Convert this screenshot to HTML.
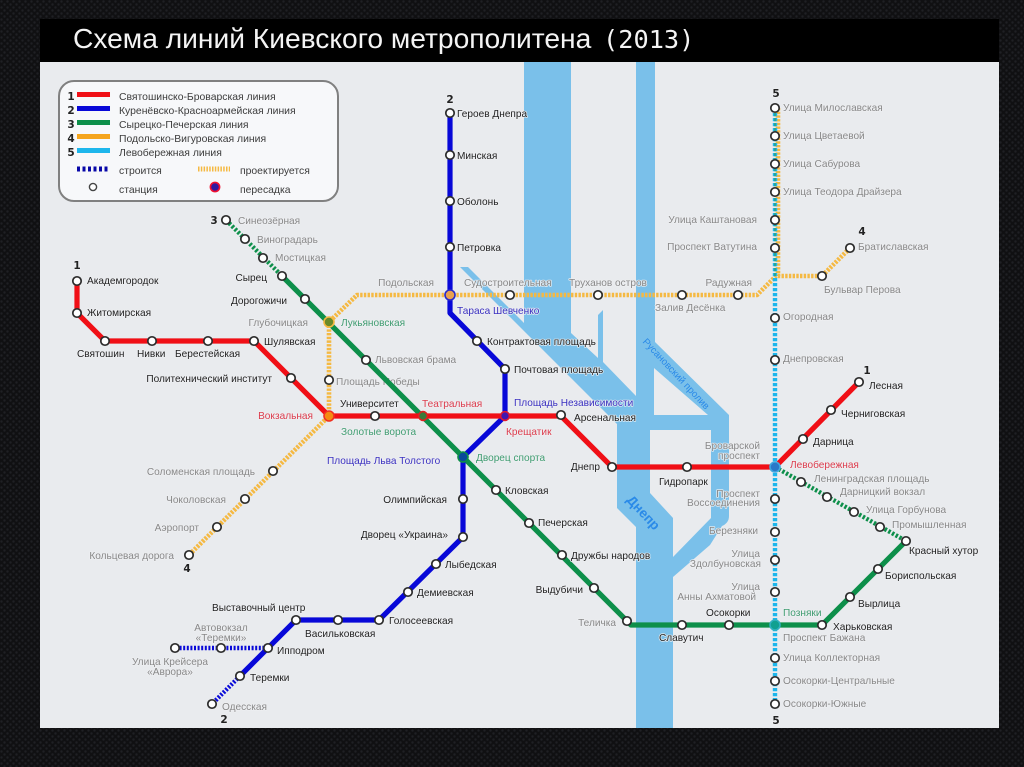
<!DOCTYPE html>
<html lang="ru"><head><meta charset="utf-8"><title>Схема линий Киевского метрополитена</title>
<style>
html,body{margin:0;padding:0;background:#111;width:1024px;height:767px;overflow:hidden}
svg{display:block;filter:blur(.35px)}
text{font-family:"Liberation Sans",sans-serif;font-size:10.1px;paint-order:stroke;stroke:#eef0f2;stroke-width:1.6px;stroke-linejoin:round;stroke-opacity:.85}
.k{fill:#222}.g{fill:#888}.r{fill:#dc3c4c}.b{fill:#3a30c0}.n{fill:#3f9c70}
.e{text-anchor:end}.m{text-anchor:middle}
.num{font-family:"DejaVu Sans",sans-serif;font-size:10.5px;font-weight:bold;fill:#222;text-anchor:middle}
.l{font-size:10.4px;stroke:none;fill:#3c3c3c}
.line{fill:none;stroke-linejoin:round;stroke-linecap:butt}
.s circle{fill:#fff;stroke:#2c2c2c;stroke-width:1.7;r:4.2px}
.t text{stroke:none;fill:#f4f4f4}
</style></head><body>
<svg width="1024" height="767" viewBox="0 0 1024 767" xmlns="http://www.w3.org/2000/svg">
<defs>
<pattern id="hex" width="6" height="6" patternUnits="userSpaceOnUse"><rect width="6" height="6" fill="#101012"/><circle cx="1.5" cy="1.5" r="1.2" fill="#1f2024"/><circle cx="4.5" cy="4.5" r="1.2" fill="#1f2024"/></pattern>
</defs>
<rect width="1024" height="767" fill="url(#hex)"/>
<rect x="40" y="19" width="959" height="43" fill="#000"/>
<rect x="40" y="62" width="959" height="666" fill="#e9ebee"/>
<g class="t">
<text x="73" y="48" style="font-size:28.2px">Схема линий Киевского метрополитена</text>
<text x="603" y="48" style="font-family:'DejaVu Sans Mono','Liberation Mono',monospace;font-size:25.3px">(2013)</text>
</g>

<!-- river -->
<g fill="#7ac0ea">
<path d="M524 62H571V333L598 358V315L603 310V362L636 396V62H655V342L729 415V516Q729 523 722 526L710 545L673 577V728H636V527L617 508V424L460 267H468L524 323Z"/>
</g>
<path d="M654 368L708 415H654Z" fill="#e9ebee"/>
<path d="M650 430H711V518L673 557V518L650 493Z" fill="#e9ebee"/>

<!-- labels that sit beneath lines -->
<text x="336" y="385" class="g">Площадь Победы</text>

<!-- orange -->
<g class="line" stroke="#f5b942" stroke-width="4.6" stroke-dasharray="2.4 1.3">
<path d="M778 108V276"/>
<path d="M850 248L822 276H776L757 295H357L329 322V416L189 555"/>
</g>
<!-- cyan -->
<path class="line" d="M775 108V704" stroke="#1db6ec" stroke-width="4.4" stroke-dasharray="3.2 1.8"/>
<path class="line" d="M775 108V276" stroke="#2f9f74" stroke-width="2" stroke-dasharray="3.2 1.8" opacity=".7"/>
<!-- green -->
<g class="line" stroke="#0d8f4a">
<path d="M226 220L282 276" stroke-width="4.4" stroke-dasharray="2.4 1.8"/>
<path d="M775 467L906 541" stroke-width="4.4" stroke-dasharray="2.4 1.8"/>
<path d="M282 276L631 625H822L906 541" stroke-width="5.2"/>
</g>
<!-- blue -->
<g class="line" stroke="#0808d8">
<path d="M450 113V313L505 369V416L463 457V537L379 620H296L240 676" stroke-width="5.2"/>
<path d="M240 676L212 704" stroke-width="4.4" stroke-dasharray="2 1.6"/>
<path d="M268 648H175" stroke-width="4.4" stroke-dasharray="2 1.6"/>
</g>
<!-- red -->
<path class="line" d="M77 281V313L105 341H254L329 416H561L612 467H775L859 382" stroke="#f00f16" stroke-width="5.2"/>

<!-- interchanges -->
<g stroke-width="1.6">
<circle cx="329" cy="322" r="5" fill="#6a8a2a" stroke="#f5b942"/>
<circle cx="450" cy="295" r="5" fill="#e8a050" stroke="#2828c8"/>
<circle cx="329" cy="416" r="5" fill="#f58a10" stroke="#f03020"/>
<circle cx="423" cy="416" r="4.4" fill="#3a7a3a" stroke="#e02020"/>
<circle cx="505" cy="416" r="4.4" fill="#4018b0" stroke="#e01830"/>
<circle cx="463" cy="457" r="5" fill="#0a4a9a" stroke="#0d8f4a"/>
<circle cx="775" cy="467" r="5" fill="#2a78c8" stroke="#40a8e0"/>
<circle cx="775" cy="625" r="5" fill="#10a090" stroke="#30b0c0"/>
</g>
<!-- stations -->
<g class="s">
<circle cx="77" cy="281" r="4"/><circle cx="77" cy="313" r="4"/><circle cx="105" cy="341" r="4"/><circle cx="152" cy="341" r="4"/><circle cx="208" cy="341" r="4"/><circle cx="254" cy="341" r="4"/><circle cx="291" cy="378" r="4"/><circle cx="375" cy="416" r="4"/><circle cx="561" cy="415" r="4"/><circle cx="612" cy="467" r="4"/><circle cx="687" cy="467" r="4"/><circle cx="803" cy="439" r="4"/><circle cx="831" cy="410" r="4"/><circle cx="859" cy="382" r="4"/>
<circle cx="450" cy="113" r="4"/><circle cx="450" cy="155" r="4"/><circle cx="450" cy="201" r="4"/><circle cx="450" cy="247" r="4"/><circle cx="477" cy="341" r="4"/><circle cx="505" cy="369" r="4"/><circle cx="463" cy="499" r="4"/><circle cx="463" cy="537" r="4"/><circle cx="436" cy="564" r="4"/><circle cx="408" cy="592" r="4"/><circle cx="379" cy="620" r="4"/><circle cx="338" cy="620" r="4"/><circle cx="296" cy="620" r="4"/><circle cx="268" cy="648" r="4"/><circle cx="240" cy="676" r="4"/><circle cx="212" cy="704" r="4"/><circle cx="221" cy="648" r="4"/><circle cx="175" cy="648" r="4"/>
<circle cx="226" cy="220" r="4"/><circle cx="245" cy="239" r="4"/><circle cx="263" cy="258" r="4"/><circle cx="282" cy="276" r="4"/><circle cx="305" cy="299" r="4"/><circle cx="366" cy="360" r="4"/><circle cx="496" cy="490" r="4"/><circle cx="529" cy="523" r="4"/><circle cx="562" cy="555" r="4"/><circle cx="594" cy="588" r="4"/><circle cx="627" cy="621" r="4"/><circle cx="682" cy="625" r="4"/><circle cx="729" cy="625" r="4"/><circle cx="822" cy="625" r="4"/><circle cx="850" cy="597" r="4"/><circle cx="878" cy="569" r="4"/><circle cx="906" cy="541" r="4"/><circle cx="880" cy="527" r="4"/><circle cx="854" cy="512" r="4"/><circle cx="827" cy="497" r="4"/><circle cx="801" cy="482" r="4"/>
<circle cx="850" cy="248" r="4"/><circle cx="822" cy="276" r="4"/><circle cx="738" cy="295" r="4"/><circle cx="682" cy="295" r="4"/><circle cx="598" cy="295" r="4"/><circle cx="510" cy="295" r="4"/><circle cx="329" cy="380" r="4"/><circle cx="273" cy="471" r="4"/><circle cx="245" cy="499" r="4"/><circle cx="217" cy="527" r="4"/><circle cx="189" cy="555" r="4"/>
<circle cx="775" cy="108" r="4"/><circle cx="775" cy="136" r="4"/><circle cx="775" cy="164" r="4"/><circle cx="775" cy="192" r="4"/><circle cx="775" cy="220" r="4"/><circle cx="775" cy="248" r="4"/><circle cx="775" cy="318" r="4"/><circle cx="775" cy="360" r="4"/><circle cx="775" cy="499" r="4"/><circle cx="775" cy="532" r="4"/><circle cx="775" cy="560" r="4"/><circle cx="775" cy="592" r="4"/><circle cx="775" cy="658" r="4"/><circle cx="775" cy="681" r="4"/><circle cx="775" cy="704" r="4"/>
</g>

<!-- legend -->
<rect x="59" y="81" width="279" height="120" rx="15" fill="#f7f8fa" stroke="#808080" stroke-width="2"/>
<g class="line" stroke-width="5">
<path d="M77 94.500H110" stroke="#f00f16"/><path d="M77 108.500H110" stroke="#0808d8"/><path d="M77 122.500H110" stroke="#0d8f4a"/><path d="M77 136.500H110" stroke="#f5a51e"/><path d="M77 150.500H110" stroke="#1db6ec"/>
<path d="M77 169H109" stroke="#0808a8" stroke-dasharray="3 2.500"/><path d="M198 169H230" stroke="#f5b942" stroke-dasharray="1.500 1.300"/>
</g>
<circle cx="93" cy="187" r="3.600" fill="#fff" stroke="#444" stroke-width="1.400"/>
<circle cx="215" cy="187" r="4.600" fill="#3018a0" stroke="#f01030" stroke-width="1.600"/>
<g>
<text class="num" style="stroke:none" x="71" y="100">1</text><text class="num" style="stroke:none" x="71" y="114">2</text><text class="num" style="stroke:none" x="71" y="128">3</text><text class="num" style="stroke:none" x="71" y="142">4</text><text class="num" style="stroke:none" x="71" y="156">5</text>
<text class="l" x="119" y="100">Святошинско-Броварская линия</text>
<text class="l" x="119" y="114">Куренёвско-Красноармейская линия</text>
<text class="l" x="119" y="128">Сырецко-Печерская линия</text>
<text class="l" x="119" y="142">Подольско-Вигуровская линия</text>
<text class="l" x="119" y="156">Левобережная линия</text>
<text class="l" x="119" y="174">строится</text><text class="l" x="240" y="174">проектируется</text>
<text class="l" x="119" y="193">станция</text><text class="l" x="240" y="193">пересадка</text>
</g>

<!-- line numbers -->
<g style="stroke:none">
<text class="num" x="450" y="103">2</text><text class="num" x="214" y="224">3</text><text class="num" x="77" y="269">1</text><text class="num" x="862" y="235">4</text><text class="num" x="776" y="97">5</text><text class="num" x="867" y="374">1</text><text class="num" x="187" y="572">4</text><text class="num" x="224" y="723">2</text><text class="num" x="776" y="724">5</text>
</g>

<!-- river labels -->
<text x="643" y="517" class="m" transform="rotate(47 643 513)" style="font-size:13.500px;font-weight:bold;fill:#2a8ae8;stroke:none">Днепр</text>
<text x="676" y="377" class="m" transform="rotate(47 676 374)" style="font-size:9.800px;fill:#2a8ae8;stroke:none">Русановский пролив</text>

<!-- station labels -->
<text x="457" y="117" class="k">Героев Днепра</text>
<text x="457" y="159" class="k">Минская</text>
<text x="457" y="205" class="k">Оболонь</text>
<text x="457" y="251" class="k">Петровка</text>
<text x="238" y="224" class="g">Синеозёрная</text>
<text x="257" y="243" class="g">Виноградарь</text>
<text x="275" y="261" class="g">Мостицкая</text>
<text x="267" y="281" class="k e">Сырец</text>
<text x="287" y="304" class="k e">Дорогожичи</text>
<text x="87" y="284" class="k">Академгородок</text>
<text x="87" y="316" class="k">Житомирская</text>
<text x="77" y="357" class="k">Святошин</text>
<text x="137" y="357" class="k">Нивки</text>
<text x="175" y="357" class="k">Берестейская</text>
<text x="264" y="345" class="k">Шулявская</text>
<text x="272" y="382" class="k e">Политехнический институт</text>
<text x="308" y="326" class="g e">Глубочицкая</text>
<text x="341" y="326" class="n">Лукьяновская</text>
<text x="434" y="286" class="g e">Подольская</text>
<text x="375" y="363" class="g">Львовская брама</text>
<text x="340" y="407" class="k">Университет</text>
<text x="422" y="407" class="r">Театральная</text>
<text x="313" y="419" class="r e">Вокзальная</text>
<text x="341" y="435" class="n">Золотые ворота</text>
<text x="327" y="464" class="b">Площадь Льва Толстого</text>
<text x="476" y="461" class="n">Дворец спорта</text>
<text x="506" y="435" class="r">Крещатик</text>
<text x="514" y="406" class="b">Площадь Независимости</text>
<text x="574" y="421" class="k">Арсенальная</text>
<text x="487" y="345" class="k">Контрактовая площадь</text>
<text x="514" y="373" class="k">Почтовая площадь</text>
<text x="457" y="314" class="b">Тараса Шевченко</text>
<text x="464" y="286" class="g">Судостроительная</text>
<text x="569" y="286" class="g">Труханов остров</text>
<text x="752" y="286" class="g e">Радужная</text>
<text x="655" y="311" class="g">Залив Десёнка</text>
<text x="824" y="293" class="g">Бульвар Перова</text>
<text x="858" y="250" class="g">Братиславская</text>
<text x="783" y="111" class="g">Улица Милославская</text>
<text x="783" y="139" class="g">Улица Цветаевой</text>
<text x="783" y="167" class="g">Улица Сабурова</text>
<text x="783" y="195" class="g">Улица Теодора Драйзера</text>
<text x="757" y="223" class="g e">Улица Каштановая</text>
<text x="757" y="250" class="g e">Проспект Ватутина</text>
<text x="783" y="320" class="g">Огородная</text>
<text x="783" y="362" class="g">Днепровская</text>
<text x="869" y="389" class="k">Лесная</text>
<text x="841" y="417" class="k">Черниговская</text>
<text x="813" y="445" class="k">Дарница</text>
<text x="790" y="468" class="r">Левобережная</text>
<text x="814" y="482" class="g">Ленинградская площадь</text>
<text x="840" y="495" class="g">Дарницкий вокзал</text>
<text x="866" y="513" class="g">Улица Горбунова</text>
<text x="892" y="528" class="g">Промышленная</text>
<text x="909" y="554" class="k">Красный хутор</text>
<text x="885" y="579" class="k">Бориспольская</text>
<text x="858" y="607" class="k">Вырлица</text>
<text x="833" y="630" class="k">Харьковская</text>
<text x="783" y="616" class="n">Позняки</text>
<text x="783" y="641" class="g">Проспект Бажана</text>
<text x="783" y="661" class="g">Улица Коллекторная</text>
<text x="783" y="684" class="g">Осокорки-Центральные</text>
<text x="783" y="707" class="g">Осокорки-Южные</text>
<text x="706" y="616" class="k">Осокорки</text>
<text x="659" y="641" class="k">Славутич</text>
<text x="616" y="626" class="g e">Теличка</text>
<text x="583" y="593" class="k e">Выдубичи</text>
<text x="571" y="559" class="k">Дружбы народов</text>
<text x="538" y="526" class="k">Печерская</text>
<text x="505" y="494" class="k">Кловская</text>
<text x="447" y="503" class="k e">Олимпийская</text>
<text x="448" y="538" class="k e">Дворец «Украина»</text>
<text x="445" y="568" class="k">Лыбедская</text>
<text x="417" y="596" class="k">Демиевская</text>
<text x="389" y="624" class="k">Голосеевская</text>
<text x="305" y="637" class="k">Васильковская</text>
<text x="212" y="611" class="k">Выставочный центр</text>
<text x="277" y="654" class="k">Ипподром</text>
<text x="250" y="681" class="k">Теремки</text>
<text x="222" y="710" class="g">Одесская</text>
<text x="221" y="631" class="g m">Автовокзал</text>
<text x="221" y="641" class="g m">«Теремки»</text>
<text x="170" y="665" class="g m">Улица Крейсера</text>
<text x="170" y="675" class="g m">«Аврора»</text>
<text x="255" y="475" class="g e">Соломенская площадь</text>
<text x="226" y="503" class="g e">Чоколовская</text>
<text x="199" y="531" class="g e">Аэропорт</text>
<text x="174" y="559" class="g e">Кольцевая дорога</text>
<text x="659" y="485" class="k">Гидропарк</text>
<text x="600" y="470" class="k e">Днепр</text>
<text x="760" y="449" class="g e">Броварской</text>
<text x="760" y="459" class="g e">проспект</text>
<text x="760" y="497" class="g e">Проспект</text>
<text x="760" y="506" class="g e">Воссоединения</text>
<text x="758" y="534" class="g e">Березняки</text>
<text x="760" y="557" class="g e">Улица</text>
<text x="761" y="567" class="g e">Здолбуновская</text>
<text x="760" y="590" class="g e">Улица</text>
<text x="756" y="600" class="g e">Анны Ахматовой</text>
</svg>
</body></html>
